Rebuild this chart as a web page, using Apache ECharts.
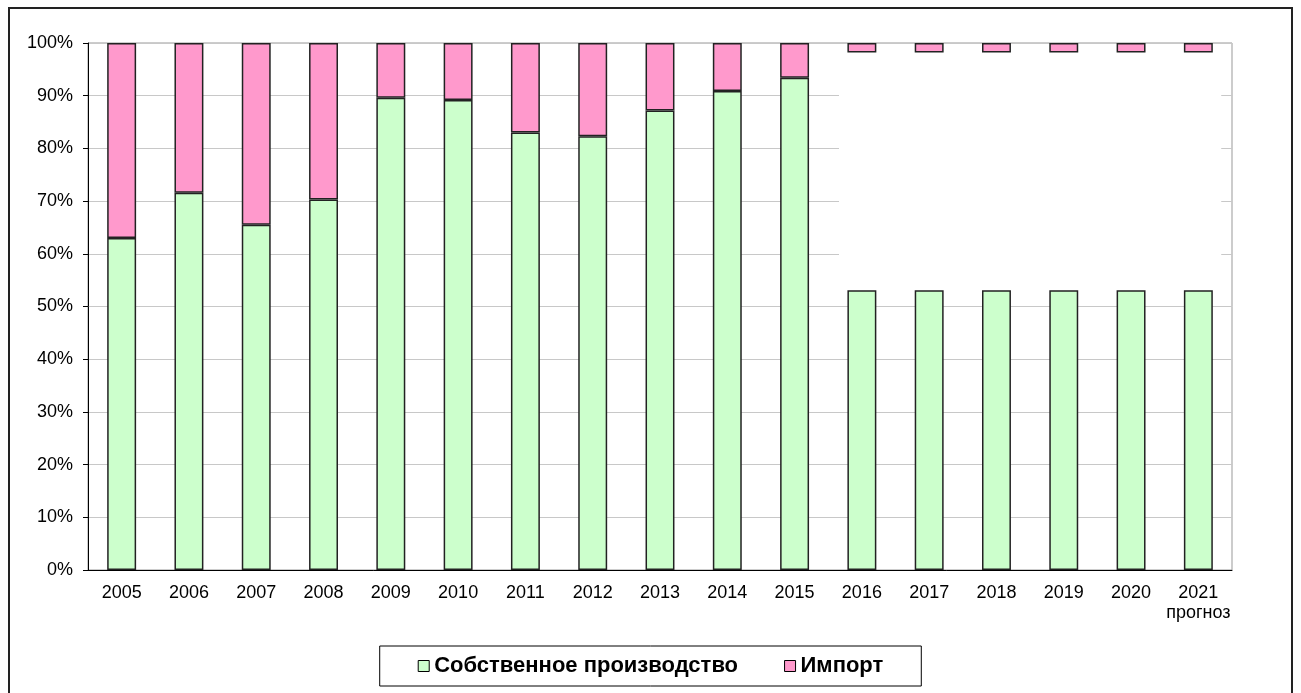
<!DOCTYPE html>
<html>
<head>
<meta charset="utf-8">
<script src="https://cdn.jsdelivr.net/npm/echarts@6/dist/echarts.min.js"></script>
<style>
  html, body { margin: 0; padding: 0; background: #fff; }
  #chart { width: 1301px; height: 693px; }
</style>
</head>
<body>
<div id="chart"></div>
<script>
// годы
const years = ["2005", "2006", "2007", "2008", "2009", "2010", "2011", "2012", "2013",
  "2014", "2015", "2016", "2017", "2018", "2019", "2020", "2021"];
// собственное производство, %
const ownShare = [63.0, 71.6, 65.5, 70.3, 89.6, 89.2, 83.0, 82.3, 87.2, 90.9, 93.4,
  53.1, 53.1, 53.1, 53.1, 53.1, 53.1];
// пустой участок (закрыт белым) 2016-2021
const hiddenShare = [null, null, null, null, null, null, null, null, null, null, null,
  45.1, 45.1, 45.1, 45.1, 45.1, 45.1];
// импорт, %
const importShare = [37.0, 28.4, 34.5, 29.7, 10.4, 10.8, 17.0, 17.7, 12.8, 9.1, 6.6,
  1.8, 1.8, 1.8, 1.8, 1.8, 1.8];
const yTicks = [0, 10, 20, 30, 40, 50, 60, 70, 80, 90, 100];

const chart = echarts.init(document.getElementById("chart"));

const barBorder = { borderColor: "#222", borderWidth: 1.5 };
const font = "Arial, 'Liberation Sans', sans-serif";

const option = {
  animation: false,
  backgroundColor: "#fff",
  textStyle: { fontFamily: font },
  grid: {
    left: 88,
    right: 69,
    top: 43,
    bottom: 123,
    show: true,
    borderColor: "#999",
    borderWidth: 1,
  },
  legend: {
    top: 646,
    left: "center",
    data: ["Собственное производство", "Импорт"],
    icon: "rect",
    itemWidth: 11,
    itemHeight: 11,
    itemGap: 46,
    borderColor: "#000",
    borderWidth: 1,
    padding: [8, 38, 8, 38],
    itemStyle: { borderColor: "#000", borderWidth: 1 },
    textStyle: { fontSize: 22, fontWeight: "bold", color: "#000", lineHeight: 24 },
  },
  xAxis: {
    type: "category",
    data: years,
    axisLine: { lineStyle: { color: "#000" } },
    axisTick: { length: 5, lineStyle: { color: "#000" } },
    axisLabel: {
      interval: 0,
      color: "#000",
      fontSize: 18,
      margin: 13,
      lineHeight: 20,
      formatter: function (v) {
        return v === "2021" ? v + "\nпрогноз" : v;
      },
    },
  },
  yAxis: {
    type: "value",
    min: yTicks[0],
    max: yTicks[yTicks.length - 1],
    interval: 10,
    axisLine: { show: true, lineStyle: { color: "#000" } },
    axisTick: { show: true, length: 5, lineStyle: { color: "#000" } },
    axisLabel: { color: "#000", fontSize: 18, margin: 15, formatter: "{value}%" },
    splitLine: { lineStyle: { color: "#c8c8c8", width: 1 } },
  },
  series: [
    {
      name: "Собственное производство",
      type: "bar",
      stack: "total",
      barWidth: "43%",
      data: ownShare,
      itemStyle: Object.assign({ color: "#ccffcc" }, barBorder),
    },
    {
      name: "gap",
      type: "bar",
      stack: "total",
      data: hiddenShare,
      itemStyle: { color: "rgba(0,0,0,0)", borderWidth: 0 },
      silent: true,
    },
    {
      name: "Импорт",
      type: "bar",
      stack: "total",
      data: importShare,
      itemStyle: Object.assign({ color: "#ff99cc" }, barBorder),
    },
  ],
};

chart.setOption(option);

// рамка вокруг всего рисунка и белое пятно над прогнозными годами
function drawExtras() {
  const first = 11;
  const last = years.length - 1;
  const p1 = chart.convertToPixel({ gridIndex: 0 }, [years[first], ownShare[first]]);
  const p2 = chart.convertToPixel({ gridIndex: 0 },
    [years[last], ownShare[last] + hiddenShare[last]]);
  const band = (p2[0] - p1[0]) / (last - first);
  const x0 = p1[0] - band * 0.34;
  const x1 = p2[0] + band * 0.34;
  chart.setOption({
    graphic: [
      {
        type: "rect",
        z: 1,
        silent: true,
        shape: { x: x0, y: p2[1], width: x1 - x0, height: p1[1] - p2[1] },
        style: { fill: "#fff" },
      },
      {
        type: "rect",
        z: 10,
        silent: true,
        shape: { x: 9, y: 8, width: 1283, height: 700 },
        style: { fill: "none", stroke: "#222", lineWidth: 2 },
      },
    ],
  });
}
drawExtras();
</script>
</body>
</html>
